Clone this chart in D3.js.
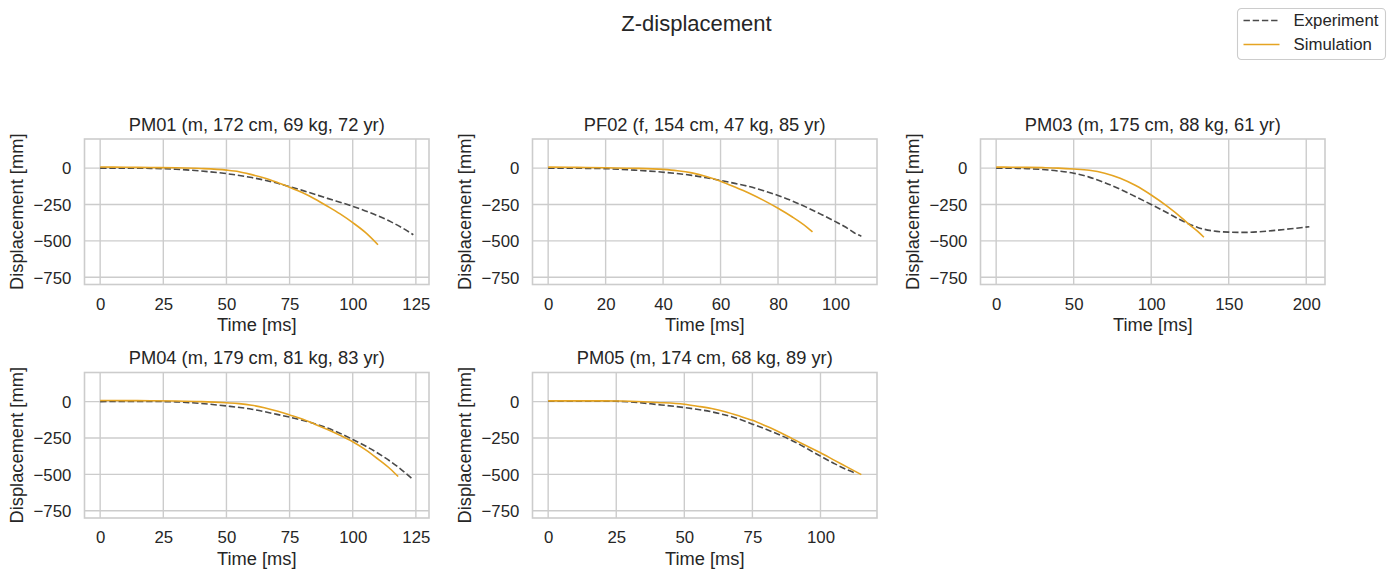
<!DOCTYPE html>
<html>
<head>
<meta charset="utf-8">
<script src="https://cdn.jsdelivr.net/npm/d3@7"></script>
<style>
  html, body { margin: 0; padding: 0; background: #ffffff; }
  svg { display: block; font-family: "Liberation Sans", Arial, sans-serif; }
</style>
</head>
<body>
<svg id="chart" width="1393" height="578"></svg>
<script>
// ---------------- DATA ----------------
const suptitle = "Z-displacement";
const seriesNames = ["Experiment", "Simulation"];
const titles = [
  "PM01 (m, 172 cm, 69 kg, 72 yr)",
  "PF02 (f, 154 cm, 47 kg, 85 yr)",
  "PM03 (m, 175 cm, 88 kg, 61 yr)",
  "PM04 (m, 179 cm, 81 kg, 83 yr)",
  "PM05 (m, 174 cm, 68 kg, 89 yr)"
];
const xLabel = "Time [ms]";
const yLabel = "Displacement [mm]";
const yDomain = [-800, 200];
const yTicks = [0, -250, -500, -750];
const xTicks = [
  [0, 25, 50, 75, 100, 125],
  [0, 20, 40, 60, 80, 100],
  [0, 50, 100, 150, 200],
  [0, 25, 50, 75, 100, 125],
  [0, 25, 50, 75, 100]
];

// [time ms, displacement mm]
const pm01Exp = [[0,0],[10,0],[20,-2],[30,-8],[40,-20],[50,-38],[60,-65],[70,-103],[75,-128],[80,-153],[90,-208],[100,-263],[105,-294],[110,-328],[115,-368],[120,-415],[124,-458]];
const pm01Sim = [[0,8],[10,6],[20,4],[30,2],[40,-3],[50,-14],[55,-25],[60,-45],[65,-68],[70,-98],[75,-132],[80,-168],[85,-212],[90,-262],[95,-315],[100,-375],[105,-442],[110,-527]];

const pf02Exp = [[0,0],[10,-1],[20,-4],[30,-14],[40,-28],[50,-50],[55,-66],[60,-85],[65,-105],[70,-127],[75,-155],[80,-188],[85,-226],[90,-270],[95,-318],[100,-368],[103,-400],[105,-424],[107,-450],[109,-468]];
const pf02Sim = [[0,7],[10,5],[20,2],[30,-1],[40,-9],[45,-18],[50,-33],[55,-58],[60,-90],[65,-130],[70,-173],[75,-222],[80,-276],[85,-336],[90,-405],[92,-438]];

const pm03Exp = [[0,0],[10,-1],[20,-4],[30,-10],[40,-20],[50,-35],[60,-62],[70,-100],[80,-145],[90,-197],[100,-250],[110,-305],[120,-362],[130,-408],[140,-432],[150,-440],[160,-442],[170,-437],[180,-428],[190,-417],[202,-403]];
const pm03Sim = [[0,7],[10,6],[20,5],[30,3],[40,0],[50,-6],[60,-15],[70,-35],[80,-70],[90,-120],[100,-185],[110,-260],[120,-345],[125,-392],[130,-435],[134,-475]];

const pm04Exp = [[0,0],[10,1],[20,1],[30,-2],[40,-13],[50,-30],[60,-52],[70,-88],[80,-128],[90,-182],[100,-260],[110,-355],[118,-450],[124,-538]];
const pm04Sim = [[0,8],[10,7],[20,6],[30,4],[40,0],[50,-8],[55,-14],[60,-25],[65,-42],[70,-65],[75,-92],[80,-120],[85,-155],[90,-192],[95,-232],[100,-276],[105,-330],[110,-395],[115,-465],[118,-515]];

const pm05Exp = [[0,2],[10,3],[20,3],[25,2],[30,-2],[40,-20],[50,-41],[60,-70],[70,-120],[75,-155],[80,-190],[90,-272],[100,-375],[105,-425],[110,-470],[113,-492]];
const pm05Sim = [[0,5],[10,5],[20,5],[26,4],[30,2],[40,-6],[50,-18],[55,-32],[60,-48],[65,-70],[70,-98],[75,-129],[80,-168],[85,-210],[90,-258],[95,-305],[100,-352],[105,-402],[110,-452],[115,-502]];

const expData = [pm01Exp, pf02Exp, pm03Exp, pm04Exp, pm05Exp];
const simData = [pm01Sim, pf02Sim, pm03Sim, pm04Sim, pm05Sim];

// ---------------- STYLE / LAYOUT ----------------
const expColor = "#4a4a4a";
const simColor = "#e5a422";
const gridColor = "#cccccc";
const textColor = "#262626";
const fsTick = 16.8, fsLabel = 18.3, fsTitle = 18.3, fsSup = 22, fsLegend = 16.8;

const colLeft = [84.5, 532.5, 980.5];
const rowTop = [139, 372.5];
const axW = 344.5, axH = 145.5;

const svg = d3.select("#chart");

svg.append("text")
  .attr("x", 696.5).attr("y", 31)
  .attr("text-anchor", "middle")
  .attr("font-size", fsSup)
  .attr("fill", textColor)
  .text(suptitle);

titles.forEach((title, i) => {
  const col = i % 3, row = Math.floor(i / 3);
  const left = colLeft[col], top = rowTop[row];
  const g = svg.append("g").attr("transform", `translate(${left},${top})`);

  const allT = expData[i].concat(simData[i]).map(d => d[0]);
  const [tMin, tMax] = d3.extent(allT);
  const pad = 0.05 * (tMax - tMin);
  const x = d3.scaleLinear().domain([tMin - pad, tMax + pad]).range([0, axW]);
  const y = d3.scaleLinear().domain(yDomain).range([axH, 0]);

  // grid
  g.append("g").selectAll("line").data(xTicks[i]).join("line")
    .attr("x1", d => x(d)).attr("x2", d => x(d))
    .attr("y1", 0).attr("y2", axH)
    .attr("stroke", gridColor).attr("stroke-width", 1.39);
  g.append("g").selectAll("line").data(yTicks).join("line")
    .attr("y1", d => y(d)).attr("y2", d => y(d))
    .attr("x1", 0).attr("x2", axW)
    .attr("stroke", gridColor).attr("stroke-width", 1.39);

  // axes (tick labels via d3 axes)
  const xAxis = d3.axisBottom(x).tickValues(xTicks[i]).tickSize(0).tickPadding(0)
    .tickFormat(d3.format("d"));
  const xg = g.append("g").attr("transform", `translate(0,${axH})`).call(xAxis);
  xg.select(".domain").remove();
  xg.selectAll("text")
    .attr("dy", null).attr("y", 25)
    .attr("font-size", fsTick).attr("fill", textColor)
    .attr("font-family", "Liberation Sans, Arial, sans-serif");

  const yAxis = d3.axisLeft(y).tickValues(yTicks).tickSize(0).tickPadding(13.2)
    .tickFormat(d => d < 0 ? "\u2212" + Math.abs(d) : String(d));
  const yg = g.append("g").call(yAxis);
  yg.select(".domain").remove();
  yg.selectAll("text")
    .attr("dy", null).attr("y", fsTick * 0.35)
    .attr("font-size", fsTick).attr("fill", textColor)
    .attr("font-family", "Liberation Sans, Arial, sans-serif");

  // lines
  const line = d3.line().x(d => x(d[0])).y(d => y(d[1])).curve(d3.curveMonotoneX);
  g.append("path").datum(expData[i])
    .attr("d", line).attr("fill", "none")
    .attr("stroke", expColor).attr("stroke-width", 1.6)
    .attr("stroke-dasharray", "6.4,2.8");
  g.append("path").datum(simData[i])
    .attr("d", line).attr("fill", "none")
    .attr("stroke", simColor).attr("stroke-width", 1.6);

  // spines
  g.append("rect").attr("x", 0).attr("y", 0).attr("width", axW).attr("height", axH)
    .attr("fill", "none").attr("stroke", gridColor).attr("stroke-width", 1.6);

  // title
  g.append("text").attr("x", axW / 2).attr("y", -8.3)
    .attr("text-anchor", "middle").attr("font-size", fsTitle).attr("fill", textColor)
    .text(title);

  // axis labels
  g.append("text").attr("x", axW / 2).attr("y", axH + 46.7)
    .attr("text-anchor", "middle").attr("font-size", fsLabel).attr("fill", textColor)
    .text(xLabel);
  g.append("text")
    .attr("transform", `translate(-62,${axH / 2}) rotate(-90)`)
    .attr("text-anchor", "middle").attr("font-size", fsLabel).attr("fill", textColor)
    .text(yLabel);
});

// legend
const lg = svg.append("g").attr("transform", "translate(1237.5,8.5)");
lg.append("rect").attr("width", 148).attr("height", 51).attr("rx", 4).attr("ry", 4)
  .attr("fill", "#ffffff").attr("fill-opacity", 0.8)
  .attr("stroke", gridColor).attr("stroke-width", 1.1);
seriesNames.forEach((name, k) => {
  const yy = 12 + k * 24;
  lg.append("line").attr("x1", 6).attr("x2", 42).attr("y1", yy).attr("y2", yy)
    .attr("stroke", k === 0 ? expColor : simColor).attr("stroke-width", 1.6)
    .attr("stroke-dasharray", k === 0 ? "6.4,2.8" : null);
  lg.append("text").attr("x", 56).attr("y", yy + 5.8)
    .attr("font-size", fsLegend).attr("fill", textColor).text(name);
});
</script>
</body>
</html>
